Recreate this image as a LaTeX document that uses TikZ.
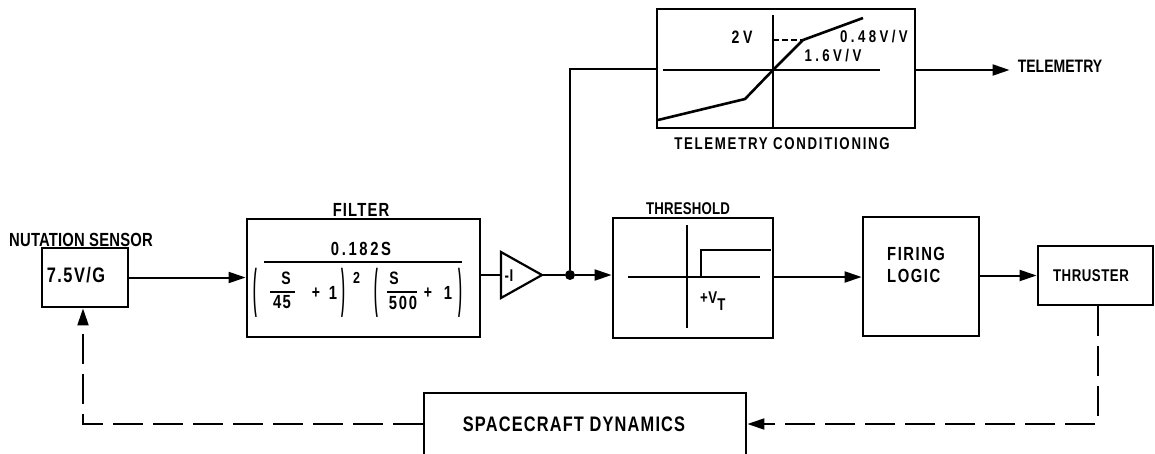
\documentclass[tikz,border=0pt]{standalone}
\usepackage{graphicx}
\usepackage{fontspec}
\setmainfont{Liberation Sans}[FakeStretch=0.78]
\usetikzlibrary{arrows.meta}
\begin{document}
\begin{tikzpicture}[x=1pt,y=-1pt,
  blk/.style={draw,line width=2.8pt,inner sep=0pt},
  conn/.style={line width=2pt},
  tip/.style={-{Triangle[length=17pt,width=11pt]}},
  arr/.style={conn,tip},
  dsh/.style={conn,dash pattern=on 30pt off 10pt},
  ax/.style={line width=2.6pt},
  t/.style n args={2}{inner sep=0pt,font=\fontsize{#1}{#1}\selectfont\bfseries\addfontfeature{LetterSpace=#2}},
  par/.style={inner sep=0pt,font=\fontsize{16}{16}\selectfont\bfseries}]
\useasboundingbox (0,0) rectangle (1155,453);
\clip (0,0) rectangle (1155,453);

% sensor
\node[blk,minimum width=86pt,minimum height=59pt] (sensor) at (85,277.5) {};
\node[t={19}{1}] (sensorlbl) at (81,240) {NUTATION SENSOR};
\node[t={21}{7}] (sensortxt) at (76,275.5) {7.5V/G};

% filter
\node[blk,minimum width=233pt,minimum height=118pt] (filter) at (363.5,278) {};
\node[t={19}{6}] (filterlbl) at (361,210) {FILTER};
\node[t={19}{14}] (num) at (361,249) {0.182S};
\coordinate (barl) at (264,262);
\coordinate (barr) at (462,262);
\draw[line width=2.2pt] (barl) -- (barr);
\node[par] (lp1) at (255,293) {\scalebox{0.9}[3.3]{(}};
\node[t={18}{5}] (s1) at (286,278.5) {S};
\draw[line width=1.6pt] (270,292) -- (295,292);
\node[t={19}{6}] (d1) at (282,302.5) {45};
\node[t={18}{5}] (p1) at (316,293) {+};
\node[t={19}{5}] (o1) at (333,293) {1};
\node[par] (rp1) at (343.5,293) {\scalebox{0.9}[3.3]{)}};
\node[t={16}{5}] (ex) at (356.5,277.5) {2};
\node[par] (lp2) at (376,293) {\scalebox{0.9}[3.3]{(}};
\node[t={18}{5}] (s2) at (394,278.5) {S};
\draw[line width=1.6pt] (387,292) -- (417,292);
\node[t={19}{9}] (d2) at (403,302.5) {500};
\node[t={18}{5}] (p2) at (428,293) {+};
\node[t={19}{5}] (o2) at (448,293) {1};
\node[par] (rp2) at (460,293) {\scalebox{0.9}[3.3]{)}};

% amplifier
\coordinate (ampin) at (501,275);
\coordinate (ampout) at (542,275);
\draw[line width=2.2pt] (501,252) -- (ampout) -- (501,298) -- cycle;
\node[t={17}{3}] (amplbl) at (509,276) {-I};
\node[circle,fill,inner sep=0pt,minimum size=10pt] (dot) at (570,275) {};

% threshold
\node[blk,minimum width=160pt,minimum height=120pt] (thresh) at (693,278) {};
\node[t={17}{1}] (threshlbl) at (688,209) {THRESHOLD};
\coordinate (tv1) at (687,225);
\coordinate (tv2) at (687,328);
\coordinate (th1) at (628,277);
\coordinate (th2) at (760,277);
\draw[ax] (tv1) -- (tv2);
\draw[ax] (th1) -- (th2);
\draw[ax] (701,277) -- (701,250) -- (771,250);
\node[t={17}{3},anchor=west] (vt) at (700,301) {+V\raisebox{-7pt}{T}};

% firing logic
\node[blk,minimum width=116pt,minimum height=119pt] (firing) at (921,276.5) {};
\node[t={19}{8},anchor=west] (firingtxt) at (887,254) {FIRING};
\node[t={19}{8},anchor=west] (logictxt) at (887,275.5) {LOGIC};

% thruster
\node[blk,minimum width=115pt,minimum height=59pt] (thruster) at (1095.5,275.5) {};
\node[t={17}{3}] (thrustertxt) at (1091,276) {THRUSTER};

% telemetry conditioning
\node[blk,minimum width=258pt,minimum height=119pt] (tele) at (786,68.5) {};
\node[t={17}{10}] (telelbl) at (782,144) {TELEMETRY CONDITIONING};
\coordinate (ev1) at (773,15);
\coordinate (ev2) at (773,127);
\coordinate (eh1) at (663,70);
\coordinate (eh2) at (880,70);
\draw[ax] (ev1) -- (ev2);
\draw[ax] (eh1) -- (eh2);
\draw[ax] (658,120) -- (745,99) -- (773,70) -- (803,40) -- (863,18);
\draw[ax,dash pattern=on 6pt off 3pt] (773,40) -- (803,40);
\node[t={18}{20}] (t2v) at (742,37) {2V};
\node[t={17}{20}] (t048) at (874,37) {0.48V/V};
\node[t={17}{20}] (t16) at (833,56) {1.6V/V};
\node[t={18}{0}] (teltxt) at (1060,66.5) {TELEMETRY};

% spacecraft dynamics
\node[blk,minimum width=322pt,minimum height=62pt] (sd) at (585,424) {};
\node[t={21}{5.5}] (sdtxt) at (574,424.5) {SPACECRAFT DYNAMICS};

% connectors
\draw[arr] (sensor.east) -- (sensor.east -| filter.west);
\draw[conn] (ampin -| filter.east) -- (ampin);
\draw[conn] (ampout) -- (dot);
\draw[arr] (dot) -- (dot -| thresh.west);
\draw[conn] (dot) |- (tele.west);
\draw[arr] (tele.east |- 0,70) -- ([xshift=-8pt]teltxt.west |- 0,70);
\draw[arr] (thresh.east |- 0,277) -- (firing.west |- 0,277);
\draw[arr] (firing.east |- thruster.west) -- (thruster.west);
\draw[dsh,tip] ([xshift=2pt]thruster.south) |- (sd.east);
\draw[dsh,tip] (sd.west) -| ([xshift=-2pt]sensor.south);
\end{tikzpicture}
\end{document}
